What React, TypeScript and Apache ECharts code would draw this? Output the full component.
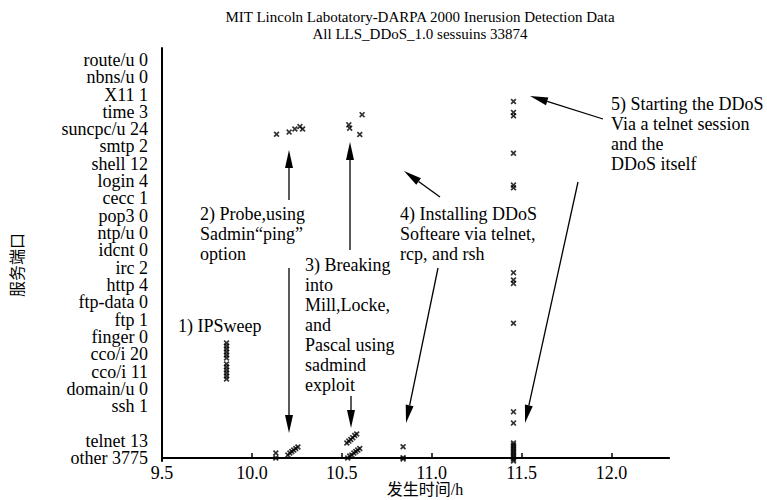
import React, { useEffect, useRef } from 'react';
import * as echarts from 'echarts';

// ---- texts ----
const titleLines = [
  'MIT Lincoln Labotatory-DARPA 2000 Inerusion Detection Data',
  'All LLS_DDoS_1.0 sessuins 33874',
];
const xAxisName = '发生时间/h';
const yAxisName = '服务端口';

// y slots, bottom to top ('' = empty slot)
const portLabels = [
  'other 3775', 'telnet 13', '', 'ssh 1', 'domain/u 0', 'cco/i 11', 'cco/i 20',
  'finger 0', 'ftp 1', 'ftp-data 0', 'http 4', 'irc 2', 'idcnt 0', 'ntp/u 0',
  'pop3 0', 'cecc 1', 'login 4', 'shell 12', 'smtp 2', 'suncpc/u 24', 'time 3',
  'X11 1', 'nbns/u 0', 'route/u 0',
];
const xTickLabels = [9.5, 10.0, 10.5, 11.0, 11.5, 12.0];
const xTickMarks = [10.0, 10.5, 11.0, 11.5, 12.0];

// ---- data (time in h, port slot with jitter) ----
const ipsweepTime = [9.859, 9.859, 9.859, 9.859, 9.859, 9.859, 9.859, 9.859, 9.859, 9.859, 9.859, 9.859];
const ipsweepPort = [6.65, 6.47, 6.30, 6.13, 5.95, 5.78, 5.43, 5.26, 5.09, 4.91, 4.74, 4.57];

const probeTime = [10.137, 10.207, 10.239, 10.267, 10.282, 10.133, 10.133, 10.200, 10.211, 10.222, 10.233, 10.244, 10.256];
const probePort = [18.71, 18.83, 19.01, 19.15, 19.01, 0.29, 0.0, 0.17, 0.29, 0.38, 0.46, 0.55, 0.64];

const breakTime = [10.539, 10.544, 10.613, 10.600, 10.528, 10.539, 10.550, 10.561, 10.572, 10.583, 10.533, 10.544, 10.556, 10.567, 10.578, 10.589, 10.600];
const breakPort = [19.25, 19.06, 19.84, 18.69, 0.87, 0.98, 1.07, 1.18, 1.30, 1.39, 0.0, 0.12, 0.17, 0.29, 0.38, 0.46, 0.55];

const installTime = [10.841, 10.841, 10.841];
const installPort = [0.65, -0.05, 0.02];

const ddosTime = [11.455, 11.455, 11.455, 11.455, 11.455, 11.455, 11.455, 11.455, 11.455, 11.455, 11.455, 11.455, 11.455, 11.455, 11.455, 11.455, 11.455, 11.455, 11.455, 11.455, 11.455, 11.455];
const ddosPort = [20.6, 19.97, 19.77, 17.61, 15.77, 15.61, 10.71, 10.29, 10.09, 7.79, 2.67, 2.02, 0.87, 0.75, 0.64, 0.52, 0.40, 0.29, 0.17, 0.06, -0.06, -0.17];

// ---- annotations ----
const annotations = [
  { lines: ['1) IPSweep'], x: 178, y: 316 },
  { lines: ['2) Probe,using', 'Sadmin“ping”', 'option'], x: 200, y: 204 },
  { lines: ['3) Breaking', 'into', 'Mill,Locke,', 'and', 'Pascal using', 'sadmind', 'exploit'], x: 305, y: 255 },
  { lines: ['4) Installing DDoS', 'Softeare via telnet,', 'rcp, and rsh'], x: 400, y: 204 },
  { lines: ['5) Starting the DDoS', 'Via a telnet session', 'and the', 'DDoS itself'], x: 611, y: 94 },
];
const arrows = [
  [289, 200, 289, 150],
  [289, 268, 289, 433],
  [350, 250, 350, 142],
  [351, 396, 351, 428],
  [440, 197, 404, 171],
  [438, 268, 406, 423],
  [603, 119, 530, 96],
  [578, 182, 525, 423],
];

const SERIF = '"Liberation Serif", "Times New Roman", "Noto Sans CJK SC", serif';
const XMARK = 'path://M0,2 L2,0 L5,3 L8,0 L10,2 L7,5 L10,8 L8,10 L5,7 L2,10 L0,8 L3,5 Z';

function zip(xs: number[], ys: number[]) {
  return xs.map((x, i) => [x, ys[i]]);
}

function arrowElements(a: number[]) {
  const [x1, y1, x2, y2] = a;
  const dx = x2 - x1, dy = y2 - y1;
  const len = Math.sqrt(dx * dx + dy * dy);
  const ux = dx / len, uy = dy / len;
  const L = 18, W = 4;
  const bx = x2 - ux * L, by = y2 - uy * L;
  const nx = -uy, ny = ux;
  return [
    { type: 'line', shape: { x1, y1, x2: bx, y2: by }, style: { stroke: '#000', lineWidth: 1.3 } },
    {
      type: 'polygon',
      shape: { points: [[x2, y2], [bx + nx * W, by + ny * W], [bx - nx * W, by - ny * W]] },
      style: { fill: '#000' },
    },
  ];
}

export default function App() {
  const ref = useRef<HTMLDivElement>(null);
  useEffect(() => {
    if (!ref.current) return;
    const chart = echarts.init(ref.current, null, { renderer: 'svg' });
    const allData = [
      ...zip(ipsweepTime, ipsweepPort),
      ...zip(probeTime, probePort),
      ...zip(breakTime, breakPort),
      ...zip(installTime, installPort),
      ...zip(ddosTime, ddosPort),
    ];
    const labelSlots = portLabels.map((l, i) => (l ? i : -1)).filter((i) => i >= 0);
    const slotsA = labelSlots.filter((_, k) => k % 2 === 0);
    const slotsB = labelSlots.filter((_, k) => k % 2 === 1);

    const graphics: any[] = [];
    graphics.push({
      type: 'text',
      style: {
        text: titleLines.join('\n'), x: 420, y: 8, align: 'center', verticalAlign: 'top',
        font: '15px ' + SERIF, lineHeight: 17, fill: '#000',
      },
    });
    graphics.push({
      type: 'text',
      style: {
        text: xAxisName, x: 425, y: 489, align: 'center', verticalAlign: 'middle',
        font: '16px ' + SERIF, fill: '#000',
      },
    });
    graphics.push({
      type: 'text',
      x: 17, y: 265, rotation: Math.PI / 2,
      style: {
        text: yAxisName, x: 0, y: 0, align: 'center', verticalAlign: 'middle',
        font: '16px ' + SERIF, fill: '#000',
      },
    });
    annotations.forEach((an) => {
      graphics.push({
        type: 'text',
        style: {
          text: an.lines.join('\n'), x: an.x, y: an.y, align: 'left', verticalAlign: 'top',
          font: '18px ' + SERIF, lineHeight: 20, fill: '#000',
        },
      });
    });
    arrows.forEach((a) => graphics.push(...arrowElements(a)));

    const yLabelBase = {
      formatter: (v: number) => portLabels[Math.round(v)] || '',
      showMinLabel: true, showMaxLabel: true, hideOverlap: false,
      color: '#000', fontFamily: SERIF, fontSize: 18, lineHeight: 16, margin: 14,
    };

    chart.setOption({
      animation: false,
      backgroundColor: '#fff',
      grid: { left: 162, top: 48, width: 507, height: 413, outerBoundsMode: 'none' },
      xAxis: [
        {
          type: 'value', min: 9.5, max: 12.32,
          axisLine: { show: true, lineStyle: { color: '#000', width: 2 } },
          axisTick: { show: true, inside: true, length: 5, customValues: xTickMarks, lineStyle: { color: '#000', width: 1.5 } },
          axisLabel: {
            customValues: xTickLabels, formatter: (v: number) => v.toFixed(1),
            showMinLabel: true, showMaxLabel: true,
            color: '#000', fontFamily: SERIF, fontSize: 18, margin: 3,
          },
          splitLine: { show: false },
        },
        {
          type: 'value', position: 'top', min: 9.5, max: 12.32,
          axisLine: { show: true, lineStyle: { color: '#000', width: 1.5 } },
          axisTick: { show: false }, axisLabel: { show: false }, splitLine: { show: false },
        },
      ],
      yAxis: [
        {
          type: 'value', min: -0.17, max: 23.69, position: 'left',
          axisLine: { show: true, lineStyle: { color: '#000', width: 2 } },
          axisTick: { show: false },
          splitLine: { show: false },
          axisLabel: { ...yLabelBase, customValues: slotsA },
        },
        {
          type: 'value', min: -0.17, max: 23.69, position: 'left', offset: 0,
          axisLine: { show: false },
          axisTick: { show: false },
          splitLine: { show: false },
          axisLabel: { ...yLabelBase, customValues: slotsB },
        },
      ],
      series: [
        {
          type: 'scatter', xAxisIndex: 0, yAxisIndex: 0, symbol: XMARK, symbolSize: 6,
          itemStyle: { color: '#000' }, data: allData, clip: false,
        },
      ],
      graphic: graphics,
    });
    return () => chart.dispose();
  }, []);
  return <div ref={ref} style={{ position: 'fixed', left: 0, top: 0, width: 767, height: 500 }} />;
}
